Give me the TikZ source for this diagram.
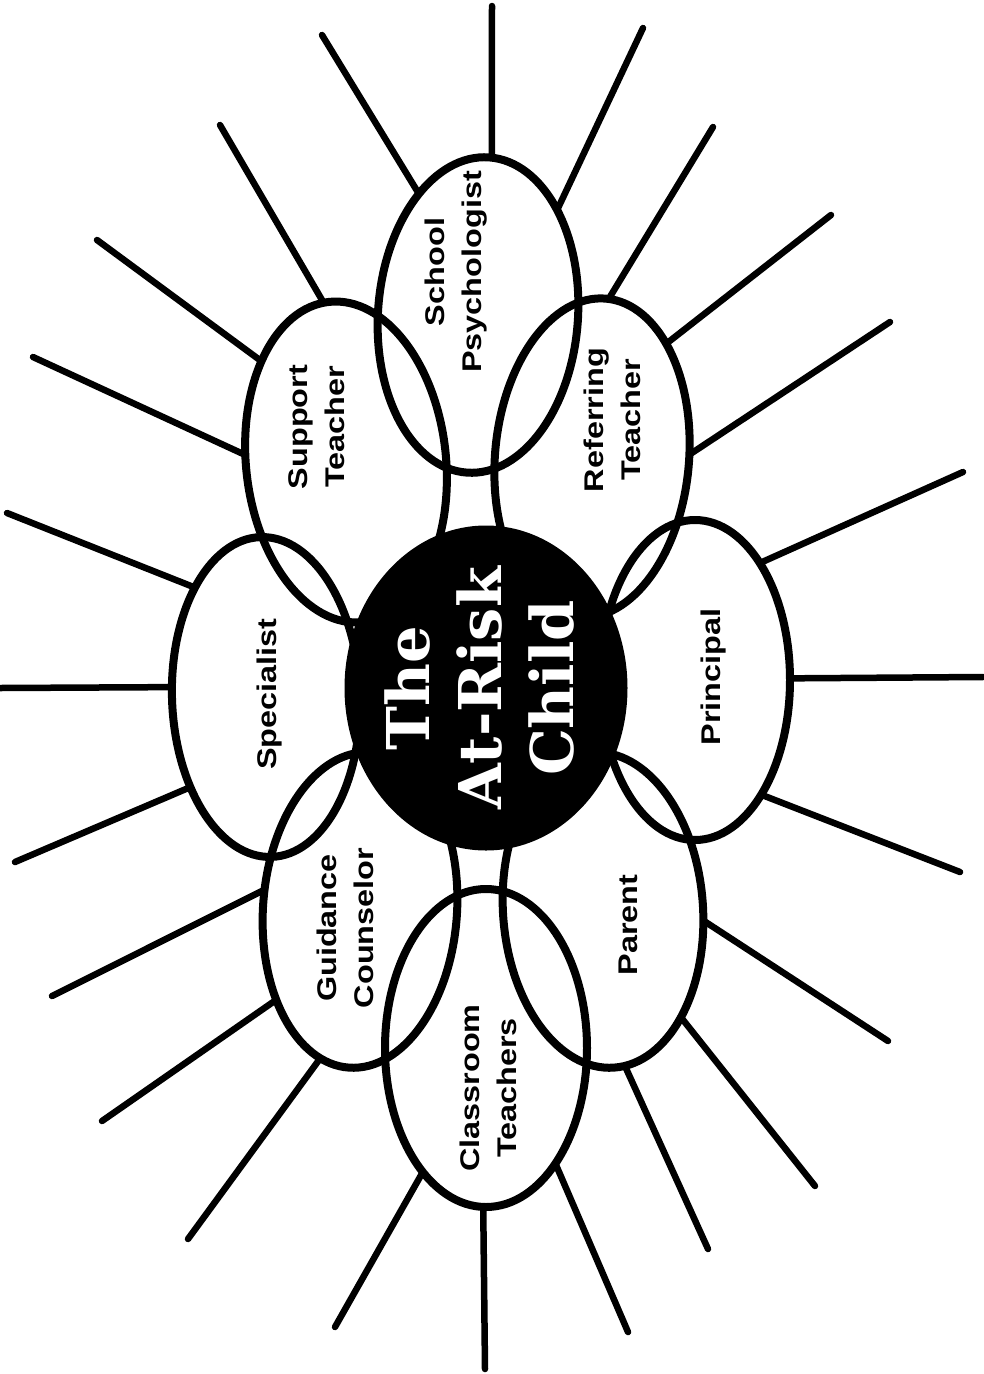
\documentclass[tikz,border=0pt]{standalone}
\usepackage{fontspec}
\usetikzlibrary{shapes.geometric}
\newfontfamily\lblfont[FakeStretch=1.2]{Liberation Sans}
\newfontfamily\hubfont{DejaVu Serif}
\begin{document}
\begin{tikzpicture}[x=1pt,y=-1pt,
  petal/.style={draw, ellipse, line width=8pt, outer sep=0pt, inner sep=0pt},
  spoke/.style={line width=6.5pt, line cap=round},
  lbl/.style={rotate=90, align=center, inner sep=0pt, font=\lblfont\bfseries\fontsize{27}{37}\selectfont},
  hub/.style={ellipse, fill=black, draw=black, line width=2pt, minimum width=281pt, minimum height=323pt, inner sep=0pt, outer sep=0pt},
  hubtext/.style={rotate=90, align=center, inner sep=0pt, text=white, font=\hubfont\bfseries\fontsize{59}{72}\selectfont}]
\fill[white] (0,0) rectangle (983,1374);
\useasboundingbox (0,0) rectangle (983,1374);

% petals
\node[petal, minimum width=200pt, minimum height=316pt, rotate=-4] (sp) at (478,315) {};
\node[petal, minimum width=200pt, minimum height=322pt, rotate=6] (st) at (346,462) {};
\node[petal, minimum width=194pt, minimum height=320pt, rotate=-5] (rt) at (592,458) {};
\node[petal, minimum width=188pt, minimum height=320pt, rotate=2] (spc) at (266,697) {};
\node[petal, minimum width=190pt, minimum height=320pt] (pr) at (695,680) {};
\node[petal, minimum width=194pt, minimum height=316pt, rotate=-4] (gc) at (360,910) {};
\node[petal, minimum width=200pt, minimum height=316pt, rotate=4] (pa) at (603,910) {};
\node[petal, minimum width=202pt, minimum height=318pt] (ct) at (486,1048) {};

% free ends of spokes
\coordinate (sp1) at (322,35);  \coordinate (sp2) at (492,6);   \coordinate (sp3) at (643,28);
\coordinate (st1) at (220,125); \coordinate (st2) at (97,240);  \coordinate (st3) at (33,357);
\coordinate (rt1) at (713,127); \coordinate (rt2) at (831,215); \coordinate (rt3) at (890,322);
\coordinate (spc1) at (7,513);  \coordinate (spc2) at (0,688);  \coordinate (spc3) at (15,862);
\coordinate (pr1) at (963,472); \coordinate (pr2) at (983,677); \coordinate (pr3) at (960,872);
\coordinate (gc1) at (52,996);  \coordinate (gc2) at (102,1121);\coordinate (gc3) at (188,1239);
\coordinate (pa1) at (888,1041);\coordinate (pa2) at (815,1186);\coordinate (pa3) at (708,1249);
\coordinate (ct1) at (335,1327);\coordinate (ct2) at (485,1369);\coordinate (ct3) at (628,1332);

% spokes
\draw[spoke] (sp.120) -- (sp1);  \draw[spoke] (sp.89) -- (sp2);   \draw[spoke] (sp.57) -- (sp3);
\draw[spoke] (st.92) -- (st1);   \draw[spoke] (st.124) -- (st2);  \draw[spoke] (st.170) -- (st3);
\draw[spoke] (rt.89) -- (rt1);   \draw[spoke] (rt.62) -- (rt2);   \draw[spoke] (rt.7) -- (rt3);
\draw[spoke] (spc.121) -- (spc1);\draw[spoke] (spc.172) -- (spc2);\draw[spoke] (spc.228) -- (spc3);
\draw[spoke] (pr.61) -- (pr1);   \draw[spoke] (pr.1) -- (pr2);    \draw[spoke] (pr.300) -- (pr3);
\draw[spoke] (gc.172) -- (gc1);  \draw[spoke] (gc.231) -- (gc2);  \draw[spoke] (gc.259) -- (gc3);
\draw[spoke] (pa.350) -- (pa1);  \draw[spoke] (pa.302) -- (pa2);  \draw[spoke] (pa.274) -- (pa3);
\draw[spoke] (ct.243) -- (ct1);  \draw[spoke] (ct.269) -- (ct2);  \draw[spoke] (ct.301) -- (ct3);

% centre
\node[hub] (hub) at (486,688) {};
\node[hubtext] (title) at (479,688) {The\\At-Risk\\Child};

% labels
\node[lbl] (lsp) at (456,272) {School\\Psychologist};
\node[lbl] (lst) at (317,427) {Support\\Teacher};
\node[lbl] (lrt) at (612,420) {Referring\\Teacher};
\node[lbl] (lspc) at (270,694) {Specialist};
\node[lbl] (lpr) at (714,677) {Principal};
\node[lbl] (lgc) at (345,928) {Guidance\\Counselor};
\node[lbl] (lpa) at (628,925) {Parent};
\node[lbl] (lct) at (488,1088) {Classroom\\Teachers};
\end{tikzpicture}
\end{document}
